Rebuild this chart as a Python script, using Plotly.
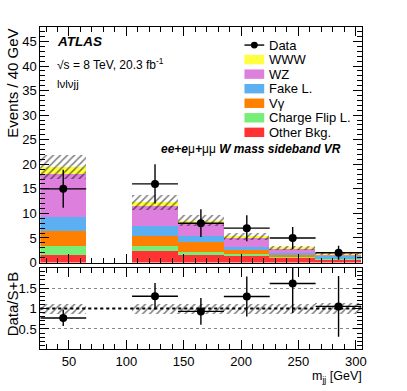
import numpy as np
import plotly.graph_objects as go

W, H = 407, 391

# bins of m_jj [GeV]
bin_centers = [45, 85, 125, 165, 205, 245, 285]
bin_width = 40

# stacked backgrounds, bottom to top
other_bkg = [1.6, 0.0, 2.5, 1.5, 1.3, 1.0, 0.7]
charge_flip = [1.8, 0.0, 1.0, 0.7, 0.5, 0.2, 0.1]
v_gamma = [3.0, 0.0, 2.0, 2.0, 0.8, 0.3, 0.15]
fake_lep = [3.0, 0.0, 1.9, 1.2, 0.6, 0.5, 0.35]
wz = [8.7, 0.0, 4.1, 2.9, 1.9, 0.9, 0.45]
www = [1.4, 0.0, 0.8, 0.3, 0.3, 0.2, 0.15]
bkg_unc = [2.5, 0.0, 1.5, 1.1, 0.7, 0.4, 0.25]
data = [15, 0, 16, 8, 7, 5, 2]

series = [
    ("Other Bkg.", other_bkg, "#ff3333"),
    ("Charge Flip L.", charge_flip, "#77ee77"),
    ("Vγ", v_gamma, "#ff7f00"),
    ("Fake L.", fake_lep, "#5caff0"),
    ("WZ", wz, "#dd7fdd"),
    ("WWW", www, "#ffff40"),
]

FONT = "Liberation Sans, Arial, sans-serif"


def px(x):
    return x / W


def py(y):
    return 1 - y / H


fig = go.Figure()

base = np.zeros(len(bin_centers))
for name, vals, col in series:
    v = np.array(vals)
    fig.add_trace(go.Bar(
        x=bin_centers, y=v, base=base, width=bin_width,
        marker=dict(color=col, line_width=0), name=name,
        showlegend=False, xaxis="x", yaxis="y",
    ))
    base = base + v
total = base

unc = np.array(bkg_unc)
mask = total > 0
pattern = dict(shape="/", fgcolor="black", bgcolor="rgba(0,0,0,0)",
               size=5, solidity=0.3, fillmode="overlay")
fig.add_trace(go.Bar(
    x=np.array(bin_centers)[mask], y=2 * unc[mask], base=(total - unc)[mask],
    width=bin_width, marker=dict(color="rgba(0,0,0,0)", line_width=0, pattern=pattern),
    showlegend=False, xaxis="x", yaxis="y",
))

d = np.array(data, dtype=float)
dmask = d > 0
xc = np.array(bin_centers)[dmask]
err_style = dict(type="data", symmetric=True, thickness=1.4, width=0, color="black")
fig.add_trace(go.Scatter(
    x=xc, y=d[dmask], mode="markers",
    marker=dict(color="black", size=8),
    error_y=dict(array=np.sqrt(d[dmask]), **err_style),
    error_x=dict(array=[bin_width / 2] * len(xc), **err_style),
    showlegend=False, xaxis="x", yaxis="y",
))

# ratio panel
safe_total = np.where(mask, total, 1)
rmask = dmask & mask
fig.add_trace(go.Bar(
    x=np.array(bin_centers)[mask], y=(2 * unc / safe_total)[mask],
    base=(1 - unc / safe_total)[mask], width=bin_width,
    marker=dict(color="rgba(0,0,0,0)", line_width=0, pattern=pattern),
    showlegend=False, xaxis="x2", yaxis="y2",
))
ratio = d[rmask] / total[rmask]
ratio_err = np.sqrt(d[rmask]) / total[rmask]
fig.add_trace(go.Scatter(
    x=np.array(bin_centers)[rmask], y=ratio, mode="markers",
    marker=dict(color="black", size=8),
    error_y=dict(array=ratio_err, **err_style),
    error_x=dict(array=[bin_width / 2] * int(rmask.sum()), **err_style),
    showlegend=False, xaxis="x2", yaxis="y2",
))

axis_common = dict(
    showline=True, linecolor="black", linewidth=1, mirror="allticks",
    ticks="inside", tickcolor="black", showgrid=False, zeroline=False,
    tickfont=dict(family=FONT, size=13, color="black"),
)
x_dom = [px(40.8), px(366)]
fig.update_layout(
    width=W, height=H, margin=dict(l=0, r=0, t=0, b=0),
    paper_bgcolor="white", plot_bgcolor="white",
    barmode="overlay", bargap=0,
    xaxis=dict(domain=x_dom, range=[25, 305], anchor="y", showticklabels=False,
               tick0=0, dtick=50, ticklen=9,
               minor=dict(ticks="inside", dtick=10, ticklen=5, tickcolor="black"),
               **axis_common),
    yaxis=dict(domain=[py(268), py(27.3)], range=[0, 48], anchor="x",
               tick0=0, dtick=5, ticklen=9,
               minor=dict(ticks="inside", dtick=1, ticklen=5, tickcolor="black"),
               **axis_common),
    xaxis2=dict(domain=x_dom, range=[25, 305], anchor="y2", matches="x",
                tick0=0, dtick=50, ticklen=9,
                minor=dict(ticks="inside", dtick=10, ticklen=5, tickcolor="black"),
                **axis_common),
    yaxis2=dict(domain=[py(356.7), py(273.3)], range=[0, 2], anchor="x2",
                tickvals=[0.5, 1, 1.5], ticktext=["0.5", "1", "1.5"], ticklen=9,
                minor=dict(ticks="inside", dtick=0.1, ticklen=5, tickcolor="black"),
                **{**axis_common, "showgrid": True},
                gridcolor="#888888", griddash="dot", gridwidth=1),
)

# dashed reference line at 1
fig.add_shape(type="line", xref="x2 domain", yref="y2", x0=0, x1=1, y0=1, y1=1,
              line=dict(color="black", width=2, dash="dot"))

# axis titles
fig.add_annotation(text="Events / 40 GeV", xref="paper", yref="paper",
                   x=px(2), y=py(27.3), xanchor="left", yanchor="top",
                   textangle=-90, showarrow=False,
                   font=dict(family=FONT, size=15, color="black"))
fig.add_annotation(text="Data/S+B", xref="paper", yref="paper",
                   x=px(2), y=py(275), xanchor="left", yanchor="top",
                   textangle=-90, showarrow=False,
                   font=dict(family=FONT, size=15, color="black"))
fig.add_annotation(text="m<sub>jj</sub> [GeV]", xref="paper", yref="paper",
                   x=px(368), y=py(394), xanchor="right", yanchor="bottom",
                   borderpad=0, showarrow=False,
                   font=dict(family=FONT, size=12.5, color="black"))

# labels
fig.add_annotation(text="<b><i>ATLAS</i></b>", xref="paper", yref="paper",
                   x=px(56), y=py(42), xanchor="left", yanchor="middle",
                   showarrow=False, font=dict(family=FONT, size=13.5, color="black"))
fig.add_annotation(text="√s = 8 TeV, 20.3 fb<sup>-1</sup>", xref="paper", yref="paper",
                   x=px(56), y=py(65), xanchor="left", yanchor="middle",
                   showarrow=False, font=dict(family=FONT, size=12, color="black"))
fig.add_annotation(text="lνlνjj", xref="paper", yref="paper",
                   x=px(56), y=py(86), xanchor="left", yanchor="middle",
                   showarrow=False, font=dict(family=FONT, size=11.5, color="black"))
fig.add_annotation(text="<b><i>ee+e</i></b>μ<b><i>+</i></b>μμ <b><i>W mass sideband VR</i></b>",
                   xref="paper", yref="paper",
                   x=px(347), y=py(152), xanchor="right", yanchor="middle",
                   showarrow=False, font=dict(family=FONT, size=12, color="black"))

# legend drawn by hand (wide boxes like the original)
leg_x0, leg_x1, leg_text = 247.5, 267.5, 270.5
leg_rows = [("Data", None)] + [(n, c) for n, _, c in reversed(series)]
for i, (name, col) in enumerate(leg_rows):
    yc = 46 + i * 14.85
    if col is None:
        fig.add_shape(type="line", xref="paper", yref="paper",
                      x0=px(leg_x0), x1=px(leg_x1), y0=py(yc), y1=py(yc),
                      line=dict(color="black", width=1.4))
        fig.add_shape(type="circle", xref="paper", yref="paper",
                      x0=px(257.5 - 3.5), x1=px(257.5 + 3.5),
                      y0=py(yc + 3.5), y1=py(yc - 3.5),
                      fillcolor="black", line=dict(color="black", width=0))
    else:
        fig.add_shape(type="rect", xref="paper", yref="paper",
                      x0=px(leg_x0), x1=px(leg_x1), y0=py(yc + 4.8), y1=py(yc - 4.8),
                      fillcolor=col, line=dict(width=0))
    fig.add_annotation(text=name, xref="paper", yref="paper",
                       x=px(leg_text), y=py(yc), xanchor="left", yanchor="middle",
                       showarrow=False, font=dict(family=FONT, size=13, color="black"))

# the page body has a default 8px margin; drop it so the figure fills the window
fig.write_html("out.html", config={"displayModeBar": False},
               post_script="document.body.style.margin='0';")
